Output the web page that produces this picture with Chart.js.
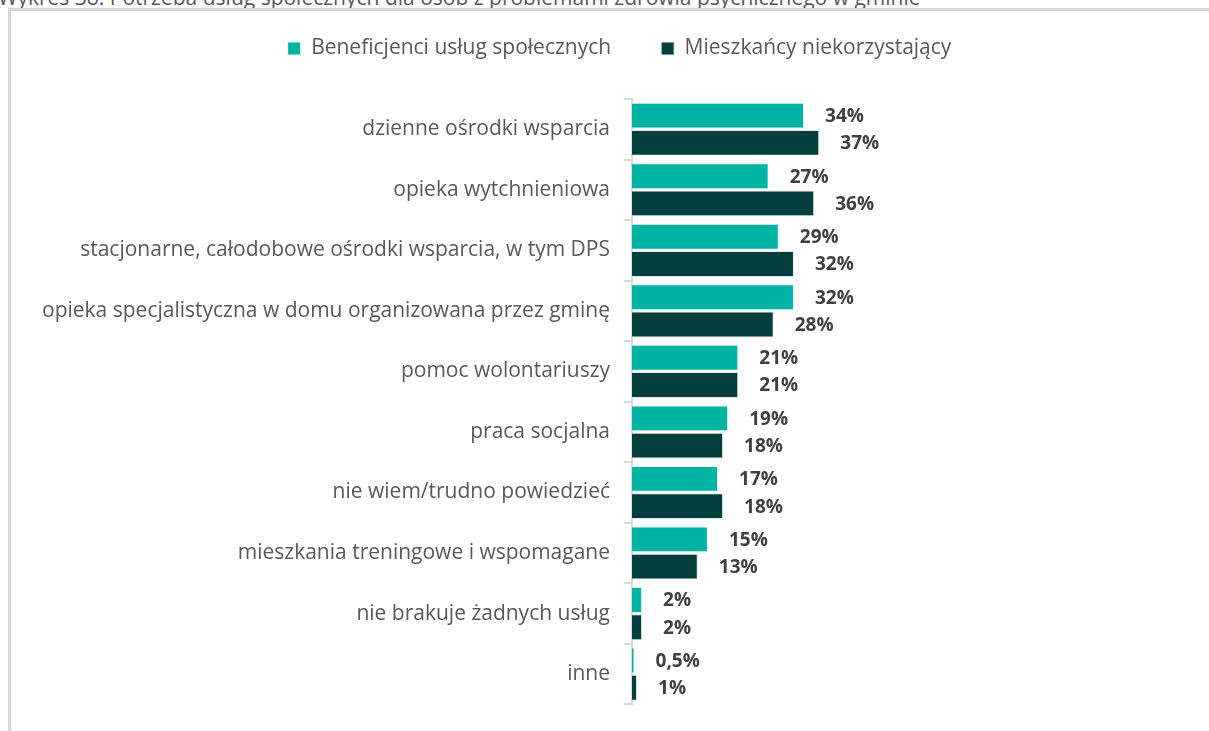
<!DOCTYPE html>
<html>
<head>
<meta charset="utf-8">
<script src="https://cdn.jsdelivr.net/npm/chart.js@4"></script>
<style>
  html, body { margin: 0; padding: 0; background: #fff; overflow: hidden; }
  #wrap { position: relative; width: 1209px; height: 731px; }
  #title {
    position: absolute; left: -2px; top: -17px; white-space: nowrap;
    font-family: "Open Sans", sans-serif; font-size: 21px; color: #595959;
  }
  #frame {
    position: absolute; left: 8px; top: 8px; width: 1220px; height: 740px;
    border: 3px solid #d9d9d9; box-sizing: border-box; background: #fff;
  }
  #c { position: absolute; left: 0; top: 0; }
</style>
</head>
<body>
<div id="wrap">
  <div id="title">Wykres 38. Potrzeba usług społecznych dla osób z problemami zdrowia psychicznego w gminie</div>
  <div id="frame"></div>
  <canvas id="c" width="1209" height="731"></canvas>
</div>
<script>
const categories = [
  'dzienne ośrodki wsparcia',
  'opieka wytchnieniowa',
  'stacjonarne, całodobowe ośrodki wsparcia, w tym DPS',
  'opieka specjalistyczna w domu organizowana przez gminę',
  'pomoc wolontariuszy',
  'praca socjalna',
  'nie wiem/trudno powiedzieć',
  'mieszkania treningowe i wspomagane',
  'nie brakuje żadnych usług',
  'inne'
];
const beneficjenci = [34, 27, 29, 32, 21, 19, 17, 15, 2, 0.5];
const mieszkancy = [37, 36, 32, 28, 21, 18, 18, 13, 2, 1];
const seriesNames = ['Beneficjenci usług społecznych', 'Mieszkańcy niekorzystający'];

const FONT = '"Open Sans", sans-serif';

const valueLabels = {
  id: 'valueLabels',
  afterDatasetsDraw(chart) {
    const ctx = chart.ctx;
    ctx.save();
    ctx.font = 'bold 19px ' + FONT;
    ctx.fillStyle = '#404040';
    ctx.textAlign = 'left';
    ctx.textBaseline = 'middle';
    chart.data.datasets.forEach((ds, i) => {
      chart.getDatasetMeta(i).data.forEach((bar, j) => {
        const txt = String(ds.data[j]).replace('.', ',') + '%';
        ctx.fillText(txt, bar.x + 21, bar.y + 1);
      });
    });
    ctx.restore();
  }
};

// legend padding is large (item spacing), so start it above the canvas
// and fix its height so the plot still begins at y=99
const legendHeight = {
  id: 'legendHeight',
  beforeInit(chart) {
    const fit = chart.legend.fit;
    chart.legend.fit = function () {
      fit.bind(chart.legend)();
      this.height = 99 + 12;
    };
  }
};

new Chart(document.getElementById('c'), {
  type: 'bar',
  data: {
    labels: categories,
    datasets: [
      { label: seriesNames[0], data: beneficjenci, backgroundColor: '#00b4a4', borderColor: '#e8f6f4', borderWidth: 1 },
      { label: seriesNames[1], data: mieszkancy, backgroundColor: '#043f3d', borderColor: '#e3ebea', borderWidth: 1 }
    ]
  },
  options: {
    indexAxis: 'y',
    responsive: false,
    animation: false,
    categoryPercentage: 0.9,
    barPercentage: 0.95,
    layout: { padding: { left: 30, right: 0, top: -12, bottom: 21 } },
    scales: {
      x: { display: false, min: 0, max: 114 },
      y: {
        afterFit(s) { s.width = 602; },
        grid: { drawOnChartArea: false, color: '#d9d9d9', tickLength: 8, lineWidth: 2 },
        border: { color: '#d9d9d9', width: 2 },
        ticks: { color: '#595959', font: { family: FONT, size: 21 }, padding: 14 }
      }
    },
    plugins: {
      legend: {
        position: 'top',
        labels: {
          color: '#595959',
          font: { family: FONT, size: 21 },
          boxWidth: 13, boxHeight: 13, padding: 50
        }
      },
      tooltip: { enabled: false }
    }
  },
  plugins: [valueLabels, legendHeight]
});
</script>
</body>
</html>
